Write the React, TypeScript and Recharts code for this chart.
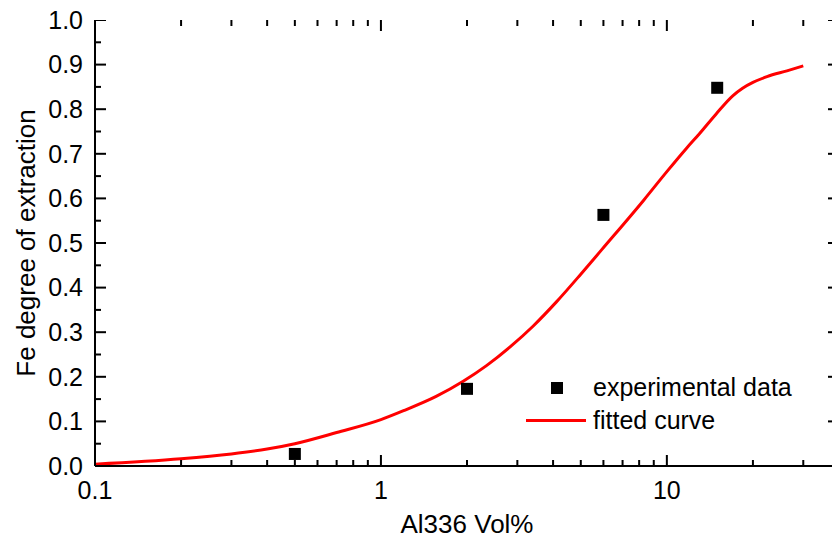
import React from "react";
import { ComposedChart, Line, Scatter, XAxis, YAxis } from "recharts";

const expX = [0.5, 2, 6, 15];
const expY = [0.027, 0.173, 0.563, 0.848];

const fitX = [0.1, 0.2, 0.3, 0.4, 0.5, 0.7, 1, 1.2, 1.56, 1.94, 2.34, 2.83, 3.41, 4.11, 5, 5.9, 8.3, 10, 11.7, 13, 14.9, 17, 18.4, 20, 22.4, 26.3, 30];
const fitY = [0.004, 0.016, 0.027, 0.038, 0.05, 0.075, 0.104, 0.124, 0.156, 0.19, 0.225, 0.267, 0.314, 0.368, 0.43, 0.484, 0.596, 0.66, 0.712, 0.745, 0.79, 0.83, 0.847, 0.86, 0.873, 0.886, 0.897];

const xMajor = [0.1, 1, 10];
const xMajorLabels = ["0.1", "1", "10"];
const xMinor = [0.2, 0.3, 0.4, 0.5, 0.6, 0.7, 0.8, 0.9, 2, 3, 4, 5, 6, 7, 8, 9, 20, 30, 40];
const yMajor = [0, 0.1, 0.2, 0.3, 0.4, 0.5, 0.6, 0.7, 0.8, 0.9, 1.0];
const yMajorLabels = ["0.0", "0.1", "0.2", "0.3", "0.4", "0.5", "0.6", "0.7", "0.8", "0.9", "1.0"];
const yMinor = [0.05, 0.15, 0.25, 0.35, 0.45, 0.55, 0.65, 0.75, 0.85, 0.95];

const X_MIN = 0.1;
const X_MAX = 40;
const Y_MIN = 0;
const Y_MAX = 1;

const experimental = expX.map((x, i) => ({ x, y: expY[i] }));
const fitted = fitX.map((x, i) => ({ x, y: fitY[i] }));

// inward tick marks: tiny scatter marks sitting on the frame, placed by the chart scales
const xTickMarks = [...xMajor.map((x) => ({ x, major: true })), ...xMinor.map((x) => ({ x, major: false }))];
const yTickMarks = [...yMajor.map((y) => ({ y, major: true })), ...yMinor.map((y) => ({ y, major: false }))];
const bottomMarks = xTickMarks.map((t) => ({ ...t, y: Y_MIN }));
const topMarks = xTickMarks.map((t) => ({ ...t, y: Y_MAX }));
const leftMarks = yTickMarks.map((t) => ({ ...t, x: X_MIN }));
const rightMarks = yTickMarks.map((t) => ({ ...t, x: X_MAX }));

const FONT = "'Liberation Sans', Arial, sans-serif";
const MAJOR = 11;
const MINOR = 6;

const BottomLabel = (props: any) => {
  const idx = xMajor.findIndex((m) => Math.abs(m - Number(props.payload.value)) < 1e-9);
  if (idx < 0) return <g />;
  return (
    <text x={Number(props.x)} y={Number(props.y) + 33} textAnchor="middle" fontSize={25} fontFamily={FONT} fill="#000">
      {xMajorLabels[idx]}
    </text>
  );
};

const LeftLabel = (props: any) => {
  const idx = yMajor.findIndex((m) => Math.abs(m - Number(props.payload.value)) < 1e-9);
  if (idx < 0) return <g />;
  return (
    <text x={Number(props.x) - 12} y={Number(props.y)} dy="0.35em" textAnchor="end" fontSize={25} fontFamily={FONT} fill="#000">
      {yMajorLabels[idx]}
    </text>
  );
};

const tickShape = (side: string) => (p: any) => {
  const major = p.payload ? p.payload.major : p.major;
  const len = major ? MAJOR : MINOR;
  const cx = Number(p.cx);
  const cy = Number(p.cy);
  if (side === "bottom") return <rect x={cx - 1} y={cy - len} width={2} height={len} fill="#000" />;
  if (side === "top") return <rect x={cx - 1} y={cy} width={2} height={len} fill="#000" />;
  if (side === "left") return <rect x={cx} y={cy - 1} width={len} height={2} fill="#000" />;
  return <rect x={cx - len} y={cy - 1} width={len} height={2} fill="#000" />;
};

const LegendBox = () => (
  <div style={{ position: "absolute", left: 520, top: 371, fontFamily: FONT, fontSize: 25, color: "#000" }}>
    <div style={{ display: "flex", alignItems: "center", height: 33 }}>
      <div style={{ width: 73, display: "flex" }}>
        <div style={{ marginLeft: 31, width: 12, height: 12, background: "#000" }} />
      </div>
      <span>experimental data</span>
    </div>
    <div style={{ display: "flex", alignItems: "center", height: 33 }}>
      <div style={{ width: 73, display: "flex" }}>
        <div style={{ marginLeft: 6, width: 60, height: 3, background: "#ff0000" }} />
      </div>
      <span>fitted curve</span>
    </div>
  </div>
);

const axisLine = { stroke: "#000", strokeWidth: 2 };
const allTicksX = [...xMajor, ...xMinor].sort((a, b) => a - b);
const allTicksY = [...yMajor, ...yMinor].sort((a, b) => a - b);

export default function App() {
  return (
    <div style={{ position: "absolute", left: 0, top: 0, width: 832, height: 538, overflow: "hidden", background: "#fff" }}>
      <ComposedChart width={860} height={538} margin={{ top: 20, right: 21, bottom: 0, left: 0 }}>
        <XAxis
          dataKey="x"
          type="number"
          scale="log"
          domain={[X_MIN, X_MAX]}
          allowDataOverflow
          ticks={allTicksX}
          interval={0}
          height={72}
          axisLine={axisLine}
          tickLine={false}
          tickSize={0}
          tickMargin={0}
          tick={<BottomLabel />}
          label={{ value: "Al336 Vol%", position: "insideBottom", offset: 5, fontSize: 26, fontFamily: FONT, fill: "#000" }}
        />
        <XAxis
          xAxisId="top"
          orientation="top"
          dataKey="x"
          type="number"
          scale="log"
          domain={[X_MIN, X_MAX]}
          allowDataOverflow
          height={0}
          axisLine={axisLine}
          tickLine={false}
          tick={false}
        />
        <YAxis
          type="number"
          domain={[Y_MIN, Y_MAX]}
          allowDataOverflow
          ticks={allTicksY}
          interval={0}
          width={95}
          axisLine={axisLine}
          tickLine={false}
          tickSize={0}
          tickMargin={0}
          tick={<LeftLabel />}
          label={{
            value: "Fe degree of extraction",
            angle: -90,
            position: "insideLeft",
            offset: 26,
            style: { textAnchor: "middle" },
            fontSize: 26,
            fontFamily: FONT,
            fill: "#000",
          }}
        />
        <YAxis
          yAxisId="right"
          orientation="right"
          type="number"
          domain={[Y_MIN, Y_MAX]}
          allowDataOverflow
          width={0}
          axisLine={axisLine}
          tickLine={false}
          tick={false}
        />
        <Scatter data={bottomMarks} dataKey="y" isAnimationActive={false} shape={tickShape("bottom")} legendType="none" />
        <Scatter data={topMarks} dataKey="y" isAnimationActive={false} shape={tickShape("top")} legendType="none" />
        <Scatter data={leftMarks} dataKey="y" isAnimationActive={false} shape={tickShape("left")} legendType="none" />
        <Scatter data={rightMarks} dataKey="y" isAnimationActive={false} shape={tickShape("right")} legendType="none" />
        <Line
          data={fitted}
          dataKey="y"
          type="monotone"
          stroke="#ff0000"
          strokeWidth={3}
          dot={false}
          activeDot={false}
          isAnimationActive={false}
        />
        <Scatter
          data={experimental}
          dataKey="y"
          fill="#000"
          isAnimationActive={false}
          shape={(p: any) => <rect x={p.cx - 6} y={p.cy - 6} width={12} height={12} fill="#000" />}
        />
      </ComposedChart>
      <LegendBox />
    </div>
  );
}
